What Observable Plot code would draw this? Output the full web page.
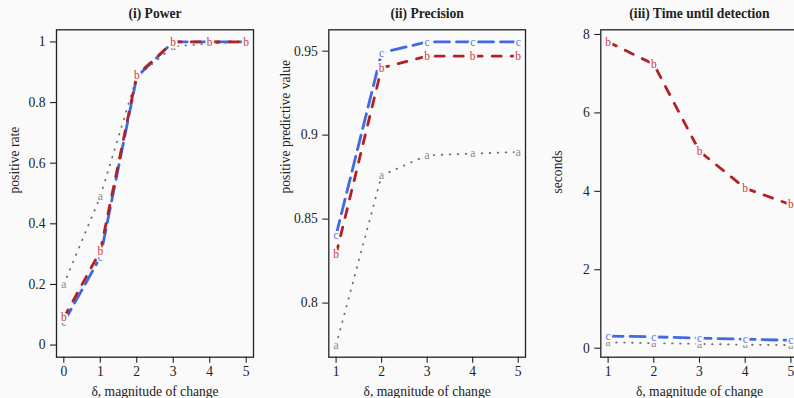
<!DOCTYPE html>
<html>
<head>
<meta charset="utf-8">
<script src="https://cdn.jsdelivr.net/npm/d3@7"></script>
<script src="https://cdn.jsdelivr.net/npm/@observablehq/plot@0.6"></script>
<style>
  html, body { margin: 0; padding: 0; background: #fafafa; overflow: hidden; }
  #wrap { position: relative; width: 794px; height: 398px; overflow: hidden; background: #fafafa; }
  .panel { position: absolute; top: 0; width: 270px; height: 398px; }
  .panel svg { max-width: none !important; width: 270px !important; height: 398px !important; }
  .panel svg, .panel svg text, .panel svg g {
    font-family: "Liberation Serif", "Times New Roman", serif !important;
  }
</style>
</head>
<body>
<div id="wrap"></div>
<script>
// ---- data ----
const deltaPower = [0, 1, 2, 3, 4, 5];
const deltaOther = [1, 2, 3, 4, 5];

const powerA = [0.20, 0.49, 0.885, 0.985, 0.995, 1.0];
const powerB = [0.09, 0.31, 0.89, 1.0, 1.0, 1.0];
const powerC = [0.075, 0.29, 0.885, 1.0, 1.0, 1.0];

const precA = [0.775, 0.876, 0.888, 0.889, 0.890];
const precB = [0.829, 0.940, 0.947, 0.947, 0.947];
const precC = [0.8405, 0.949, 0.9555, 0.9555, 0.9555];

const timeA = [0.15, 0.13, 0.11, 0.09, 0.08];
const timeB = [7.81, 7.24, 5.02, 4.08, 3.66];
const timeC = [0.31, 0.29, 0.255, 0.23, 0.20];

const seriesLetters = ["a", "c", "b"];
const titles = ["(i) Power", "(ii) Precision", "(iii) Time until detection"];
const yLabels = ["positive rate", "positive predictive value", "seconds"];
const xLabel = "δ, magnitude of change";
const powerTicksY = [0, 0.2, 0.4, 0.6, 0.8, 1];
const precTicksY = [0.8, 0.85, 0.9, 0.95];
const timeTicksY = [0, 2, 4, 6, 8];

// ---- styles ----
const BG = "#fafafa";
const INK = "#222";
const FS = 13.6;
const style = {
  a: {color: "#6e6e6e", label: "#8a8a8a", width: 1.8, dash: "0.6,7.4"},
  c: {color: "#4169e1", label: "#4f76e6", width: 2.8, dash: "15,7"},
  b: {color: "#b22222", label: "#cc3b3b", width: 2.8, dash: "9,10"}
};

function rExpand(vals) {
  const [lo, hi] = d3.extent(vals);
  const r = hi - lo;
  return [lo - 0.04 * r, hi + 0.04 * r];
}

function makePanel({xs, values, xDomain, yDomain, yTicks, title, yLabel, ml, mr, ylabDx}) {
  const marks = [];
  seriesLetters.forEach((k) => {
    const data = xs.map((x, i) => ({x, y: values[k][i]}));
    const s = style[k];
    marks.push(Plot.line(data, {
      x: "x", y: "y", stroke: s.color, strokeWidth: s.width,
      strokeDasharray: s.dash, strokeLinecap: "round", strokeLinejoin: "round"
    }));
    marks.push(Plot.text(data, {
      x: "x", y: "y", text: () => k, fill: s.label, stroke: BG,
      strokeWidth: 4, fontSize: 11.5
    }));
  });
  marks.push(Plot.frame({stroke: INK, strokeWidth: 1.3}));
  marks.push(Plot.axisX({ticks: xs, tickSize: 6, tickPadding: 3, label: null, stroke: INK, strokeWidth: 1.1, fontSize: FS, tickFormat: d => String(d)}));
  marks.push(Plot.axisY({ticks: yTicks, tickSize: 6, tickPadding: 5, label: null, stroke: INK, strokeWidth: 1.1, fontSize: FS, tickFormat: d => String(d)}));
  marks.push(Plot.text([title], {frameAnchor: "top", dy: -16, text: d => d, fontWeight: "bold", fontSize: FS, fill: INK, lineAnchor: "middle"}));
  marks.push(Plot.text([xLabel], {frameAnchor: "bottom", dy: 34.5, text: d => d, fontSize: FS, fill: INK, lineAnchor: "middle"}));
  marks.push(Plot.text([yLabel], {frameAnchor: "left", dx: ylabDx, rotate: -90, text: d => d, fontSize: FS, fill: INK, lineAnchor: "middle"}));
  return Plot.plot({
    width: 270, height: 398,
    marginLeft: ml, marginRight: mr, marginTop: 29.3, marginBottom: 41.3,
    x: {domain: xDomain},
    y: {domain: yDomain},
    style: {background: "transparent", fontSize: FS + "px", color: INK, overflow: "visible"},
    marks
  });
}

const wrap = document.getElementById("wrap");
const panels = [
  {left: 0, xs: deltaPower, values: {a: powerA, b: powerB, c: powerC},
   xDomain: rExpand(deltaPower), yDomain: rExpand([0, 1]), yTicks: powerTicksY,
   title: titles[0], yLabel: yLabels[0], ml: 56, mr: 17, ylabDx: -42},
  {left: 270, xs: deltaOther, values: {a: precA, b: precB, c: precC},
   xDomain: rExpand(deltaOther), yDomain: rExpand([...precA, ...precB, ...precC]), yTicks: precTicksY,
   title: titles[1], yLabel: yLabels[1], ml: 58.3, mr: 15, ylabDx: -43},
  {left: 540, xs: deltaOther, values: {a: timeA, b: timeB, c: timeC},
   xDomain: rExpand(deltaOther), yDomain: rExpand([...timeA, ...timeB, ...timeC]), yTicks: timeTicksY,
   title: titles[2], yLabel: yLabels[2], ml: 60.3, mr: 12.3, ylabDx: -43.6}
];
for (const p of panels) {
  const div = document.createElement("div");
  div.className = "panel";
  div.style.left = p.left + "px";
  div.appendChild(makePanel(p));
  wrap.appendChild(div);
}
</script>
</body>
</html>
